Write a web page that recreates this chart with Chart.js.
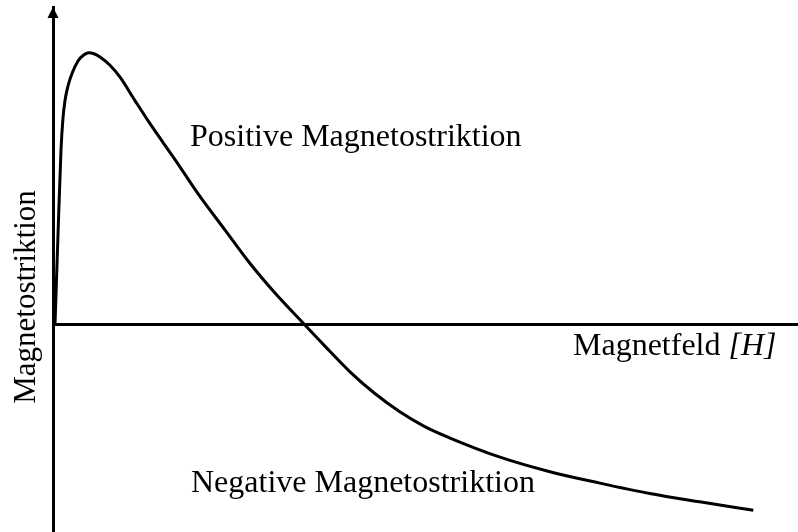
<!DOCTYPE html>
<html>
<head>
<meta charset="utf-8">
<script src="https://cdn.jsdelivr.net/npm/chart.js@4/dist/chart.umd.min.js"></script>
<style>
  html, body { margin: 0; padding: 0; background: #fff; }
  #wrap { width: 798px; height: 532px; }
</style>
</head>
<body>
<div id="wrap"><canvas id="c" width="798" height="532"></canvas></div>
<script>
// Magnetic field H (arbitrary units)
const fieldH = [0.27, 0.67, 1.07, 1.34, 1.61, 2.01, 2.55, 3.36, 4.16, 4.83, 5.5, 6.31, 7.65, 9.0, 11.0, 13.0, 16.4, 19.7, 23.1, 26.4, 29.8, 33.7, 36.5, 39.9, 43.2, 46.6, 49.9, 53.3, 60.0, 66.7, 73.4, 80.1, 86.8, 94.0];
// Magnetostriction (arbitrary units)
const striction = [0, 8.56, 16.7, 19.8, 21.5, 22.9, 24.1, 25.3, 25.9, 26.1, 26.0, 25.7, 24.9, 23.75, 21.5, 19.3, 15.8, 12.3, 9.04, 5.87, 2.98, 0, -2.12, -4.62, -6.68, -8.46, -9.86, -10.96, -12.8, -14.2, -15.3, -16.3, -17.1, -17.9];

const labelPositive = 'Positive Magnetostriktion';
const labelNegative = 'Negative Magnetostriktion';
const labelX = 'Magnetfeld ';
const labelXUnit = '[H]';
const labelY = 'Magnetostriktion';

const points = fieldH.map((x, i) => ({ x: x, y: striction[i] }));

const FONT = '"Liberation Serif", "Times New Roman", serif';

const textPlugin = {
  id: 'texts',
  afterDraw(chart) {
    const ctx = chart.ctx;
    const a = chart.chartArea;
    ctx.save();
    ctx.fillStyle = '#000';
    // arrow head on y axis
    const ax = a.left;
    ctx.beginPath();
    ctx.moveTo(ax, a.top);
    ctx.lineTo(ax - 5.5, a.top + 11);
    ctx.lineTo(ax + 5.5, a.top + 11);
    ctx.closePath();
    ctx.fill();

    ctx.textAlign = 'left';
    ctx.textBaseline = 'alphabetic';
    ctx.font = '32px ' + FONT;
    ctx.fillText(labelPositive, a.left + 137, 146);
    ctx.fillText(labelNegative, a.left + 138, 492);
    ctx.fillText(labelX, 573, 355);
    const w = ctx.measureText(labelX).width;
    ctx.font = 'italic 32px ' + FONT;
    ctx.fillText(labelXUnit, 573 + w, 355);

    ctx.font = '31px ' + FONT;
    ctx.translate(35, 297);
    ctx.rotate(-Math.PI / 2);
    ctx.textAlign = 'center';
    ctx.fillText(labelY, 0, 0);
    ctx.restore();
  }
};

new Chart(document.getElementById('c'), {
  type: 'line',
  data: {
    datasets: [{
      data: points,
      borderColor: '#000',
      borderWidth: 3,
      pointRadius: 0,
      fill: false,
      cubicInterpolationMode: 'monotone'
    }]
  },
  options: {
    responsive: false,
    animation: false,
    devicePixelRatio: 1,
    layout: { padding: { left: 0, right: 0, top: 7, bottom: 0 } },
    plugins: { legend: { display: false }, tooltip: { enabled: false } },
    scales: {
      x: {
        type: 'linear',
        min: 0, max: 100,
        position: { y: 0 },
        ticks: { display: false },
        grid: { display: false, drawTicks: false },
        border: { display: true, width: 3, color: '#000' }
      },
      y: {
        type: 'linear',
        min: -20, max: 30.5,
        position: 'left',
        ticks: { display: false },
        grid: { display: false, drawTicks: false },
        border: { display: true, width: 3, color: '#000' },
        afterFit(scale) { scale.width = 53; }
      }
    }
  },
  plugins: [textPlugin]
});
</script>
</body>
</html>
